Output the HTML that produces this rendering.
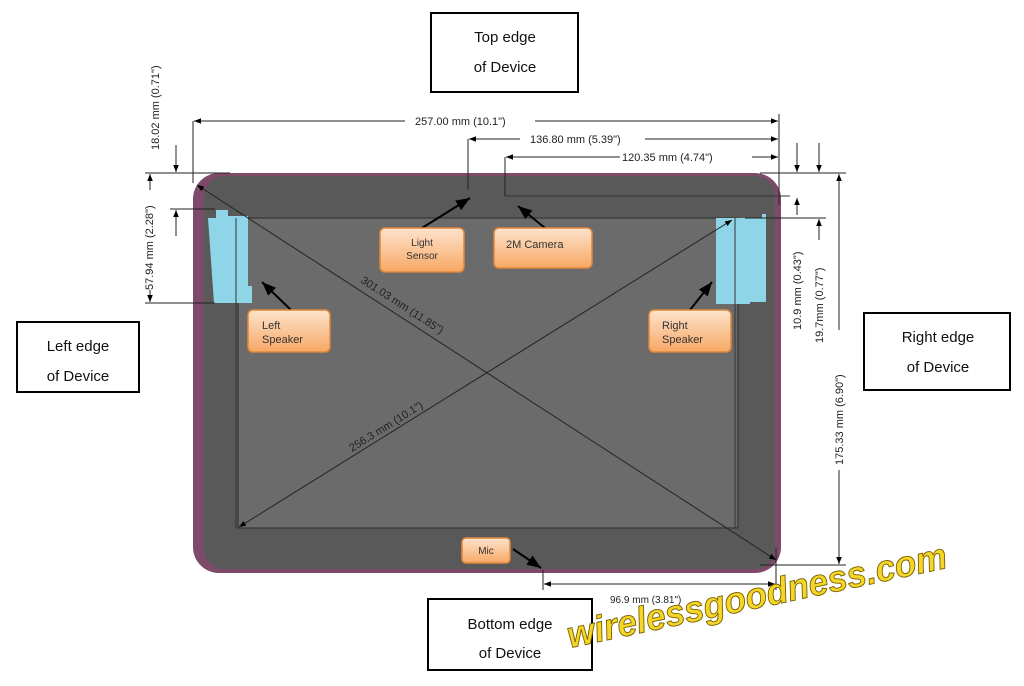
<!DOCTYPE html>
<html><head><meta charset="utf-8"><style>
html,body{margin:0;padding:0;background:#fff;width:1024px;height:686px;overflow:hidden}
svg{display:block}
text{font-family:"Liberation Sans",sans-serif}
</style></head><body>
<svg width="1024" height="686" viewBox="0 0 1024 686" xmlns="http://www.w3.org/2000/svg">
<defs>
<marker id="a" viewBox="0 0 10 10" refX="10" refY="5" markerWidth="7" markerHeight="7" orient="auto-start-reverse"><path d="M0,1 L10,5 L0,9 z" fill="#000"/></marker>
<linearGradient id="og" x1="0" y1="0" x2="0" y2="1"><stop offset="0" stop-color="#fde3cc"/><stop offset="1" stop-color="#f7a865"/></linearGradient>
</defs>
<rect x="193" y="173" width="588" height="400" rx="26" fill="#7d4a6a"/>
<rect x="204" y="176" width="571" height="393" rx="20" fill="#595959"/>
<rect x="238" y="218" width="500" height="310" fill="#6b6b6b" stroke="#3f3f3f" stroke-width="1.5"/>
<path d="M208,218 h8 v-8 h12 v6 h20 v70 h4 v17 h-38 z" fill="#8fd5e8"/>
<line x1="236" y1="218" x2="236" y2="528" stroke="#333" stroke-width="1"/>
<path d="M716,218 h46 v-4 h4 v88 h-16 v2 h-34 z" fill="#8fd5e8"/>
<line x1="735" y1="218" x2="735" y2="528" stroke="#333" stroke-width="1"/>
<line x1="197" y1="185" x2="776" y2="560" stroke="#222" stroke-width="1" marker-start="url(#a)" marker-end="url(#a)"/>
<line x1="239" y1="527" x2="732" y2="220" stroke="#222" stroke-width="1" marker-start="url(#a)" marker-end="url(#a)"/>
<text x="0" y="0" font-size="11" fill="#222" transform="translate(360,282) rotate(33)">301.03 mm (11.85")</text>
<text x="0" y="0" font-size="11" fill="#222" transform="translate(352,452) rotate(-32)">256.3 mm (10.1")</text>
<g stroke="#222" stroke-width="1" fill="none">
<line x1="193" y1="121" x2="193" y2="183"/>
<line x1="779" y1="114" x2="779" y2="205"/>
<line x1="194" y1="121" x2="405" y2="121" marker-start="url(#a)"/>
<line x1="535" y1="121" x2="778" y2="121" marker-end="url(#a)"/>
<line x1="468" y1="139" x2="468" y2="190"/>
<line x1="469" y1="139" x2="520" y2="139" marker-start="url(#a)"/>
<line x1="645" y1="139" x2="778" y2="139" marker-end="url(#a)"/>
<line x1="505" y1="157" x2="505" y2="196"/>
<line x1="506" y1="157" x2="620" y2="157" marker-start="url(#a)"/>
<line x1="752" y1="157" x2="778" y2="157" marker-end="url(#a)"/>
<line x1="505" y1="196" x2="790" y2="196" stroke="#333"/>
<line x1="760" y1="173" x2="846" y2="173"/>
<line x1="745" y1="218" x2="826" y2="218"/>
<line x1="760" y1="565" x2="846" y2="565"/>
<line x1="797" y1="143" x2="797" y2="172" marker-end="url(#a)"/>
<line x1="819" y1="143" x2="819" y2="172" marker-end="url(#a)"/>
<line x1="797" y1="215" x2="797" y2="198" marker-end="url(#a)"/>
<line x1="819" y1="240" x2="819" y2="219" marker-end="url(#a)"/>
<line x1="839" y1="330" x2="839" y2="174" marker-end="url(#a)"/>
<line x1="839" y1="470" x2="839" y2="564" marker-end="url(#a)"/>
<line x1="145" y1="173" x2="230" y2="173"/>
<line x1="145" y1="303" x2="215" y2="303"/>
<line x1="170" y1="209" x2="215" y2="209"/>
<line x1="176" y1="145" x2="176" y2="172" marker-end="url(#a)"/>
<line x1="176" y1="236" x2="176" y2="210" marker-end="url(#a)"/>
<line x1="150" y1="190" x2="150" y2="174" marker-end="url(#a)"/>
<line x1="150" y1="290" x2="150" y2="302" marker-end="url(#a)"/>
<line x1="543" y1="570" x2="543" y2="590"/>
<line x1="776" y1="548" x2="776" y2="590"/>
<line x1="544" y1="584" x2="775" y2="584" marker-start="url(#a)" marker-end="url(#a)"/>
<g stroke="#000" stroke-width="2">
<line x1="422" y1="228" x2="470" y2="198" marker-end="url(#a)"/>
<line x1="545" y1="228" x2="518" y2="206" marker-end="url(#a)"/>
<line x1="291" y1="310" x2="262" y2="282" marker-end="url(#a)"/>
<line x1="690" y1="310" x2="712" y2="282" marker-end="url(#a)"/>
<line x1="513" y1="549" x2="541" y2="568" marker-end="url(#a)"/>
</g>
</g>
<g font-size="11" fill="#222">
<text x="415" y="125">257.00 mm (10.1")</text>
<text x="530" y="143">136.80 mm (5.39")</text>
<text x="622" y="161">120.35 mm (4.74")</text>
<text x="610" y="603" font-size="10">96.9 mm (3.81")</text>
<text transform="translate(159,150) rotate(-90)">18.02 mm (0.71")</text>
<text transform="translate(153,290) rotate(-90)">57.94 mm (2.28")</text>
<text transform="translate(801,330) rotate(-90)">10.9 mm (0.43")</text>
<text transform="translate(823,343) rotate(-90)">19.7mm (0.77")</text>
<text transform="translate(843,465) rotate(-90)">175.33 mm (6.90")</text>
</g>
<g stroke="#e0873a" stroke-width="1.5" fill="url(#og)">
<rect x="380" y="228" width="84" height="44" rx="5"/>
<rect x="494" y="228" width="98" height="40" rx="5"/>
<rect x="248" y="310" width="82" height="42" rx="5"/>
<rect x="649" y="310" width="82" height="42" rx="5"/>
<rect x="462" y="538" width="48" height="25" rx="4"/>
</g>
<g font-size="11" fill="#333">
<text x="422" y="246" text-anchor="middle" font-size="10">Light</text>
<text x="422" y="259" text-anchor="middle" font-size="10">Sensor</text>
<text x="506" y="248">2M Camera</text>
<text x="262" y="329">Left</text>
<text x="262" y="343">Speaker</text>
<text x="662" y="329">Right</text>
<text x="662" y="343">Speaker</text>
<text x="486" y="554" text-anchor="middle" font-size="10">Mic</text>
</g>
<g fill="#fff" stroke="#000" stroke-width="2">
<rect x="431" y="13" width="147" height="79"/>
<rect x="17" y="322" width="122" height="70"/>
<rect x="864" y="313" width="146" height="77"/>
<rect x="428" y="599" width="164" height="71"/>
</g>
<g font-size="15" fill="#111" text-anchor="middle">
<text x="505" y="42">Top edge</text>
<text x="505" y="72">of Device</text>
<text x="78" y="351">Left edge</text>
<text x="78" y="381">of Device</text>
<text x="938" y="342">Right edge</text>
<text x="938" y="372">of Device</text>
<text x="510" y="629">Bottom edge</text>
<text x="510" y="658">of Device</text>
</g>
<text transform="translate(570,648) rotate(-12) scale(1.1,1.15)" font-size="32" font-style="italic" font-weight="bold" fill="#f4d628" stroke="#7a6000" stroke-width="0.8">wirelessgoodness.com</text>
</svg>
</body></html>
